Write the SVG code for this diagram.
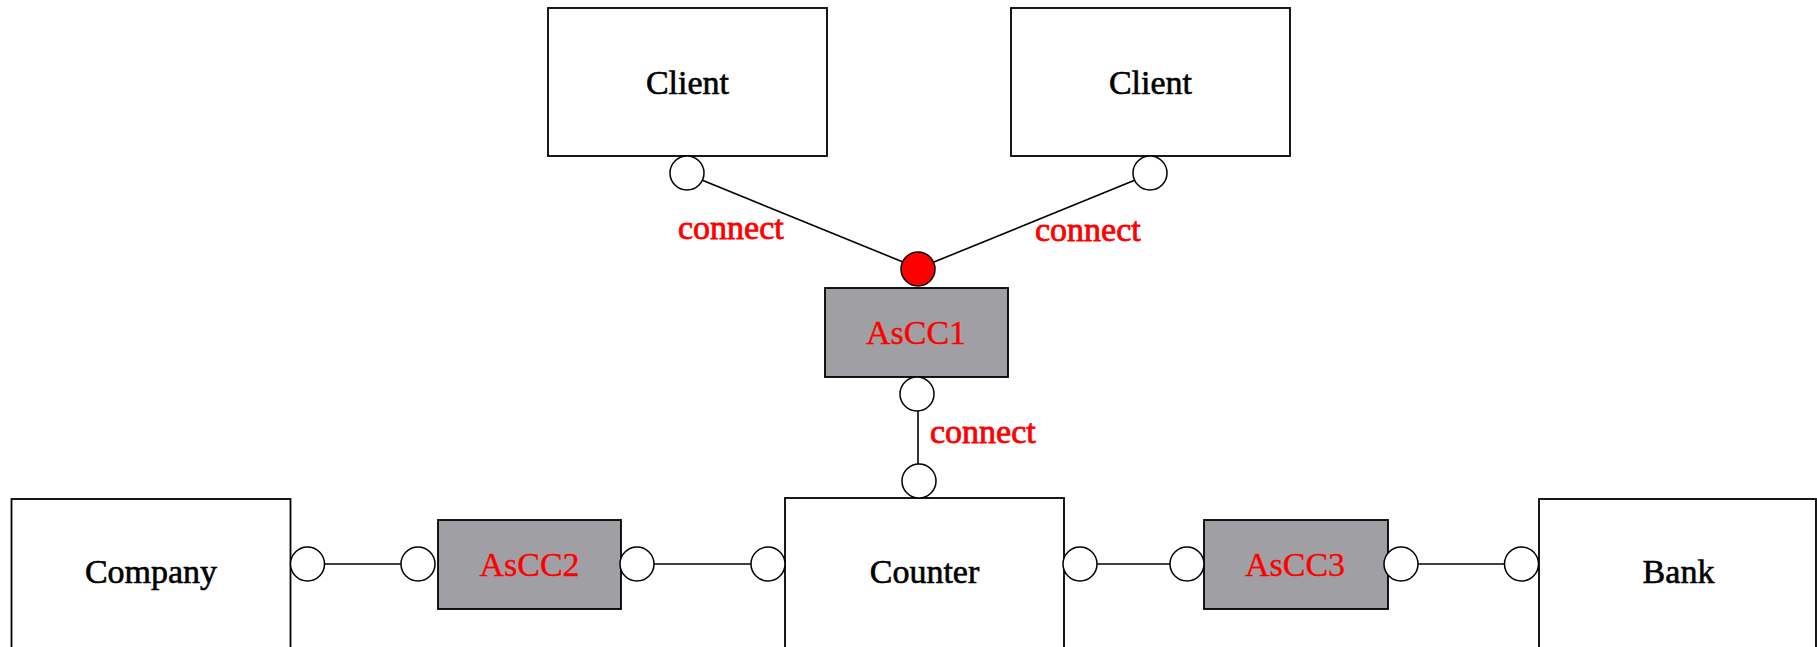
<svg xmlns="http://www.w3.org/2000/svg" width="1817" height="647" viewBox="0 0 1817 647">
<style>
.box{fill:#ffffff;stroke:#000000;stroke-width:1.8}
.comp{fill:#a0a0a4;stroke:#000000;stroke-width:1.8}
.port{fill:#ffffff;stroke:#000000;stroke-width:1.5}
.rport{fill:#ff0000;stroke:#000000;stroke-width:1.5}
.lbl{font-family:"Liberation Serif","Times New Roman",serif;font-size:34px;fill:#000000;stroke:#000000;stroke-width:0.6;text-anchor:middle}
.rlbl{font-family:"Liberation Serif","Times New Roman",serif;font-size:34px;fill:#ff0000;stroke:#ff0000;stroke-width:0.4;text-anchor:middle}
.conn{font-family:"Liberation Serif","Times New Roman",serif;font-size:34px;fill:#ff0000;stroke:#ff0000;stroke-width:0.8}
.wire{stroke:#000000;stroke-width:1.6;fill:none}
</style>
<rect width="1817" height="647" fill="#ffffff"/>
<g id="connectors">
<line class="wire" x1="703" y1="180.5" x2="903" y2="262"/>
<line class="wire" x1="1134" y1="180.5" x2="934" y2="262"/>
<line class="wire" x1="918" y1="411" x2="918" y2="464"/>
<line class="wire" x1="324" y1="564" x2="401" y2="564"/>
<line class="wire" x1="654" y1="564" x2="751" y2="564"/>
<line class="wire" x1="1097" y1="564" x2="1170" y2="564"/>
<line class="wire" x1="1418" y1="564" x2="1505" y2="564"/>
<text class="conn" x="678" y="239">connect</text>
<text class="conn" x="1035" y="241">connect</text>
<text class="conn" x="930" y="443">connect</text>
</g>
<g id="client1">
<rect class="box" x="548" y="8" width="279" height="148"/>
<text class="lbl" x="687.5" y="94">Client</text>
<circle class="port" cx="687" cy="173" r="17"/>
</g>
<g id="client2">
<rect class="box" x="1011" y="8" width="279" height="148"/>
<text class="lbl" x="1150.5" y="94">Client</text>
<circle class="port" cx="1150" cy="173" r="17"/>
</g>
<g id="ascc1">
<rect class="comp" x="825" y="288" width="183" height="89"/>
<text class="rlbl" x="916" y="344">AsCC1</text>
<circle class="rport" cx="918" cy="269" r="17"/>
<circle class="port" cx="917" cy="394" r="17"/>
</g>
<g id="company">
<rect class="box" x="11.5" y="499" width="279" height="160"/>
<text class="lbl" x="151" y="583">Company</text>
<circle class="port" cx="307.5" cy="564" r="17"/>
</g>
<g id="ascc2">
<rect class="comp" x="438" y="520" width="183" height="89"/>
<text class="rlbl" x="529.5" y="576">AsCC2</text>
<circle class="port" cx="418" cy="564" r="17"/>
<circle class="port" cx="637" cy="564" r="17"/>
</g>
<g id="counter">
<rect class="box" x="785" y="498" width="279" height="160"/>
<text class="lbl" x="924.5" y="583">Counter</text>
<circle class="port" cx="919" cy="481" r="17"/>
<circle class="port" cx="768" cy="564" r="17"/>
<circle class="port" cx="1080" cy="564" r="17"/>
</g>
<g id="ascc3">
<rect class="comp" x="1204" y="520" width="184" height="89"/>
<text class="rlbl" x="1295" y="576">AsCC3</text>
<circle class="port" cx="1187" cy="564" r="17"/>
<circle class="port" cx="1401" cy="564" r="17"/>
</g>
<g id="bank">
<rect class="box" x="1539" y="499" width="277" height="160"/>
<text class="lbl" x="1678.5" y="583">Bank</text>
<circle class="port" cx="1521.5" cy="564" r="17"/>
</g>
</svg>
